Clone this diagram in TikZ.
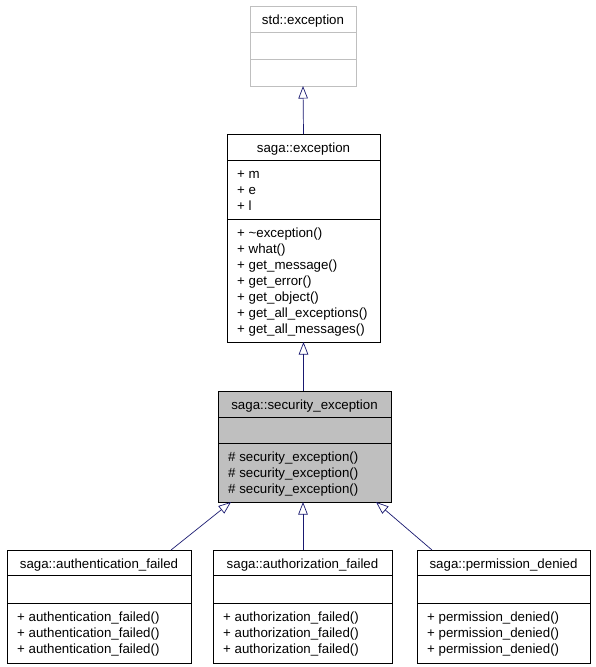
\documentclass[tikz,border=0pt]{standalone}
\usepackage{fontspec}
\setmainfont{Liberation Sans}
\usetikzlibrary{arrows.meta}
\definecolor{edgeblue}{HTML}{191970}
\definecolor{boxgray}{HTML}{BFBFBF}

\begin{document}
\begin{tikzpicture}[x=1pt, y=-1pt,
    cls/.style={draw, line width=0.8pt, inner sep=0pt, outer sep=0pt, anchor=north west},
    lbl/.style={font=\fontsize{13.3}{16}\selectfont, inner sep=0pt},
    title/.style={lbl, anchor=base},
    item/.style={lbl, anchor=base west},
    inherit/.style={draw=edgeblue, line width=0.7pt, -{Triangle[open, length=12.5pt, width=9.5pt]}}]
        \useasboundingbox (0,0) rectangle (595,667);
        % class boxes
        \node[cls, draw=boxgray, minimum width=106, minimum height=80] (std) at (250,6) {};
        \node[cls, minimum width=153, minimum height=208] (saga) at (227,134) {};
        \node[cls, fill=boxgray, minimum width=173, minimum height=111] (security) at (218,391) {};
        \node[cls, minimum width=184, minimum height=113] (auth) at (7,550) {};
        \node[cls, minimum width=179, minimum height=113] (authz) at (213,550) {};
        \node[cls, minimum width=173, minimum height=113] (perm) at (417,550) {};
        % compartments
        \draw[boxgray, line width=0.8pt] (std.west |- 0,32) -- (std.east |- 0,32);
        \draw[boxgray, line width=0.8pt] (std.west |- 0,59) -- (std.east |- 0,59);
        \draw[line width=0.8pt] (saga.west |- 0,160) -- (saga.east |- 0,160);
        \draw[line width=0.8pt] (saga.west |- 0,219) -- (saga.east |- 0,219);
        \draw[line width=0.8pt] (security.west |- 0,417) -- (security.east |- 0,417);
        \draw[line width=0.8pt] (security.west |- 0,443) -- (security.east |- 0,443);
        \draw[line width=0.8pt] (auth.west |- 0,575) -- (auth.east |- 0,575);
        \draw[line width=0.8pt] (auth.west |- 0,603) -- (auth.east |- 0,603);
        \draw[line width=0.8pt] (authz.west |- 0,575) -- (authz.east |- 0,575);
        \draw[line width=0.8pt] (authz.west |- 0,603) -- (authz.east |- 0,603);
        \draw[line width=0.8pt] (perm.west |- 0,575) -- (perm.east |- 0,575);
        \draw[line width=0.8pt] (perm.west |- 0,603) -- (perm.east |- 0,603);
        % std::exception
        \node[title] (stdname) at (303,24) {std::exception};
        % saga::exception
        \node[title] (saganame) at (303.5,152) {saga::exception};
        \node[item] (sagam) at (237,178) {+ m};
        \node[item] (sagae) at (237,194) {+ e};
        \node[item] (sagal) at (237,210) {+ l};
        \node[item] (sagadtor) at (237,237) {+ \textasciitilde exception()};
        \node[item] (sagawhat) at (237,253) {+ what()};
        \node[item] (sagamsg) at (237,269) {+ get\_message()};
        \node[item] (sagaerr) at (237,285) {+ get\_error()};
        \node[item] (sagaobj) at (237,301) {+ get\_object()};
        \node[item] (sagaallexc) at (237,317) {+ get\_all\_exceptions()};
        \node[item] (sagaallmsg) at (237,333) {+ get\_all\_messages()};
        % saga::security_exception
        \node[title] (secname) at (304.5,409) {saga::security\_exception};
        \node[item] (secctora) at (228,461) {\# security\_exception()};
        \node[item] (secctorb) at (228,477) {\# security\_exception()};
        \node[item] (secctorc) at (228,493) {\# security\_exception()};
        % saga::authentication_failed
        \node[title] (authname) at (99,568) {saga::authentication\_failed};
        \node[item] (authctora) at (17,621) {+ authentication\_failed()};
        \node[item] (authctorb) at (17,637) {+ authentication\_failed()};
        \node[item] (authctorc) at (17,653) {+ authentication\_failed()};
        % saga::authorization_failed
        \node[title] (authzname) at (302.5,568) {saga::authorization\_failed};
        \node[item] (authzctora) at (223,621) {+ authorization\_failed()};
        \node[item] (authzctorb) at (223,637) {+ authorization\_failed()};
        \node[item] (authzctorc) at (223,653) {+ authorization\_failed()};
        % saga::permission_denied
        \node[title] (permname) at (503.5,568) {saga::permission\_denied};
        \node[item] (permctora) at (427,621) {+ permission\_denied()};
        \node[item] (permctorb) at (427,637) {+ permission\_denied()};
        \node[item] (permctorc) at (427,653) {+ permission\_denied()};
        % inheritance
        \draw[inherit] (saga.north) -- (std.south);
        \draw[inherit] (security.north -| saga.south) -- (saga.south);
        \draw[inherit] ([xshift=-20pt]auth.north east) -- ([xshift=13pt]security.south west);
        \draw[inherit] (authz.north -| 303,0) -- (security.south -| 303,0);
        \draw[inherit] ([xshift=15pt]perm.north west) -- ([xshift=-15pt]security.south east);
    \end{tikzpicture}
\end{document}
